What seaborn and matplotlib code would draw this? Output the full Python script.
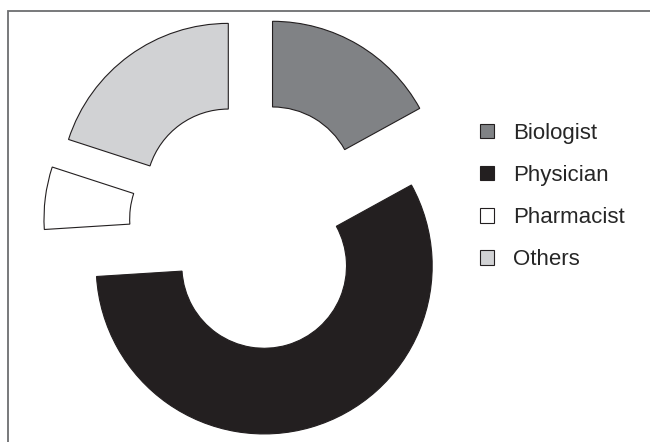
import matplotlib
matplotlib.use('Agg')
import matplotlib.pyplot as plt
import seaborn as sns
from matplotlib.patches import Rectangle

# Data
labels = ['Biologist', 'Physician', 'Pharmacist', 'Others']
shares = [17, 57, 6, 20]
colors = ['#808285', '#231f20', '#ffffff', '#d1d2d4']
explode = [0.24, 0.26, 0.24, 0.24]

sns.set_theme(style='white')
plt.rcParams['font.family'] = ['Liberation Sans', 'DejaVu Sans']

fig = plt.figure(figsize=(6.5, 4.42), dpi=100)
ax = fig.add_axes([0, 0, 1, 1])

ax.pie(shares, colors=colors, explode=explode, startangle=90, counterclock=False,
       radius=1, wedgeprops=dict(width=0.51, edgecolor='#231f20', linewidth=0.8))

# pie centre at pixel (252, 224), radius 168 px
ax.set_aspect('auto')
ax.set_xlim(-252 / 168, (650 - 252) / 168)
ax.set_ylim(-(442 - 224) / 168, 224 / 168)
ax.axis('off')

# legend
handles = [Rectangle((0, 0), 1, 1, facecolor=c, edgecolor='#231f20', linewidth=0.8) for c in colors]
fig.legend(handles, labels, loc='upper left', bbox_to_anchor=(480 / 650, 1 - 123 / 442),
           frameon=False, fontsize=16, handlelength=0.62, handleheight=0.62,
           handletextpad=0.85, labelspacing=0.95, borderpad=0, borderaxespad=0)

# frame (top and left border)
fig.add_artist(Rectangle((8 / 650, -0.1), 1.2, 1 - 11 / 442 + 0.1, transform=fig.transFigure,
                         fill=False, edgecolor='#6d6e71', linewidth=1.3))

fig.savefig('out.png', dpi=100)
